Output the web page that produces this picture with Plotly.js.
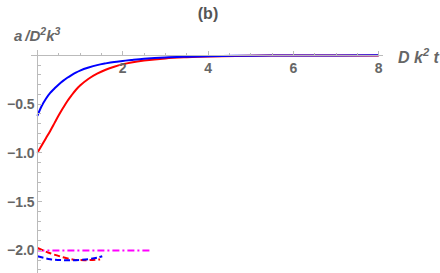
<!DOCTYPE html>
<html><head><meta charset="utf-8">
<script src="https://cdn.plot.ly/plotly-3.0.1.min.js"></script>
<style>html,body{margin:0;padding:0;background:#fff}#c{width:440px;height:273px}</style>
</head><body><div id="c"></div>
<script>
const xSolid = [0,0.1,0.2,0.3,0.4,0.5,0.6,0.7,0.8,0.9,1.0,1.2,1.4,1.6,1.8,2.0,2.2,2.5,3,3.5,4,5,6,7,8];
const redSolid = [-1.0,-0.925,-0.85,-0.775,-0.695,-0.615,-0.54,-0.47,-0.41,-0.355,-0.31,-0.24,-0.188,-0.148,-0.117,-0.092,-0.073,-0.053,-0.031,-0.019,-0.011,-0.004,-0.0015,-0.0005,-0.0002];
const blueSolid = [-0.62,-0.52,-0.445,-0.385,-0.34,-0.298,-0.262,-0.23,-0.202,-0.177,-0.156,-0.125,-0.1,-0.082,-0.067,-0.057,-0.048,-0.036,-0.022,-0.014,-0.008,-0.003,-0.001,-0.0004,-0.0001];
const xRedDash = [0,0.3,0.6,0.85,1.1,1.3,1.47];
const redDash = [-1.975,-2.03,-2.07,-2.095,-2.1,-2.098,-2.093];
const xBlueDash = [0,0.3,0.6,0.9,1.2,1.4,1.52];
const blueDash = [-2.06,-2.09,-2.10,-2.10,-2.09,-2.075,-2.06];
const xMag = [0,2.67];
const magLine = [-2.0,-2.0];
const xTickVals = [2,4,6,8];
const xTickText = ['2','4','6','8'];
const yTickVals = [-0.5,-1.0,-1.5,-2.0];
const yTickText = ['\u22120.5','\u22121.0','\u22121.5','\u22122.0'];

const xr = [-0.15, 8.1], yr = [-2.232, 0.055];
const fam = 'Liberation Sans, Arial, sans-serif';
const tickFont = {family:fam, size:14, color:'#666', weight:'bold'};
const axCol = '#bbbbbb';
const traces = [
 {x:xSolid, y:redSolid, mode:'lines', line:{color:'#ff0000', width:2, shape:'spline'}},
 {x:xSolid, y:blueSolid, mode:'lines', line:{color:'#0000ff', width:2, shape:'spline'}},
 {x:xMag, y:magLine, mode:'lines', line:{color:'#ff00ff', width:2, dash:'7px,3px,2px,3px'}},
 {x:xRedDash, y:redDash, mode:'lines', line:{color:'#ff0000', width:2, dash:'6px,3px', shape:'spline'}},
 {x:xBlueDash, y:blueDash, mode:'lines', line:{color:'#0000ff', width:2, dash:'6px,3px', shape:'spline'}}
];
const layout = {
 width:440, height:273, showlegend:false,
 paper_bgcolor:'#fff', plot_bgcolor:'#fff',
 margin:{l:31, r:57, t:50, b:0},
 title:{text:'(b)', x:208/440, y:1-13/273, xanchor:'center', yanchor:'middle', font:{family:fam, size:16, color:'#555', weight:'bold'}},
 xaxis:{range:xr, anchor:'free', position:(0-yr[0])/(yr[1]-yr[0]), showgrid:false, zeroline:false,
   showline:true, linecolor:axCol, linewidth:1, tickmode:'array', tickvals:xTickVals, ticktext:xTickText,
   ticks:'inside', ticklen:4, tickcolor:axCol, tickfont:tickFont,
   minor:{tickmode:'linear', tick0:0, dtick:0.5, ticks:'inside', ticklen:2.5, tickcolor:axCol}},
 yaxis:{range:yr, anchor:'free', position:(0-xr[0])/(xr[1]-xr[0]), showgrid:false, zeroline:false,
   showline:true, linecolor:axCol, linewidth:1, tickmode:'array', tickvals:yTickVals, ticktext:yTickText,
   ticks:'inside', ticklen:4, tickcolor:axCol, tickfont:tickFont,
   minor:{tickmode:'linear', tick0:0, dtick:0.1, ticks:'inside', ticklen:2.5, tickcolor:axCol}},
 annotations:[
  {text:'<i>a</i>\u2009/D<sup>2</sup>k<sup>3</sup>', xref:'paper', yref:'paper', x:(12-31)/352, y:(273-34)/223, xanchor:'left', yanchor:'middle', showarrow:false,
   font:{family:fam, size:15, color:'#666', weight:'bold', style:'italic'}},
  {text:'D k<sup>2</sup> t', xref:'paper', yref:'paper', x:(396-31)/352, y:(273-56)/223, xanchor:'left', yanchor:'middle', showarrow:false,
   font:{family:fam, size:16, color:'#666', weight:'bold', style:'italic'}}
 ]
};
Plotly.newPlot('c', traces, layout, {displayModeBar:false, staticPlot:true});
</script></body></html>
